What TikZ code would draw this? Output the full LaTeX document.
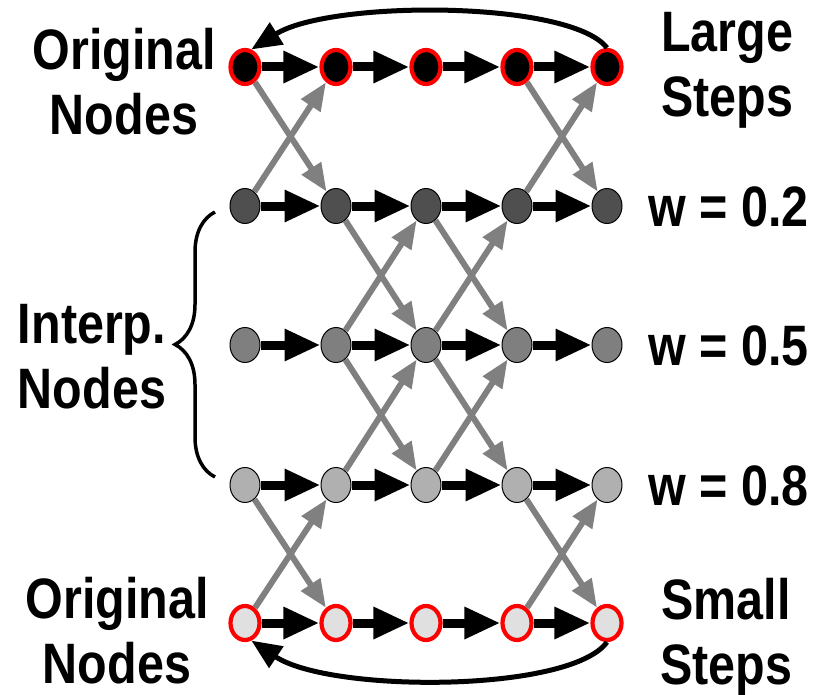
\documentclass[tikz,border=0pt]{standalone}
\usepackage{fontspec}
\newfontfamily\lblfont{Liberation Sans}[FakeStretch=0.85]
\usetikzlibrary{arrows.meta,shapes.geometric,decorations.pathreplacing}
\definecolor{wtwo}{HTML}{4F4F4F}
\definecolor{wfive}{HTML}{7F7F7F}
\definecolor{weight}{HTML}{B0B0B0}
\definecolor{origlight}{HTML}{E0E0E0}
\definecolor{grayarrow}{HTML}{808080}
\tikzset{
  nd/.style={ellipse, minimum width=30pt, minimum height=35pt, inner sep=0pt},
  origA/.style={nd, fill=black, draw=red, line width=4.2pt, minimum width=29pt, minimum height=34pt},
  wA/.style={nd, fill=wtwo, draw=black, line width=1pt},
  wB/.style={nd, fill=wfive, draw=black, line width=1pt},
  wC/.style={nd, fill=weight, draw=black, line width=1pt},
  origB/.style={nd, fill=origlight, draw=red, line width=4.2pt, minimum width=29pt, minimum height=34pt},
  harr/.style={line width=9pt, -{Triangle[length=36pt,width=30pt]}},
  garr/.style={draw=grayarrow, line width=6pt, -{Triangle[length=28pt,width=22pt]}},
  carr/.style={line width=5pt, -{Triangle[length=30pt,width=25pt]}},
  lbl/.style={font=\lblfont\bfseries\fontsize{57}{65}\selectfont, align=center, inner sep=0pt, anchor=base},
}
\begin{document}
\begin{tikzpicture}[x=1pt,y=-1pt]
\useasboundingbox (0,0) rectangle (821,695);
\foreach \c/\x in {0/245,1/336,2/426,3/517,4/607}{
  \node[origA] (a\c) at (\x,67) {};
  \node[wA] (b\c) at (\x,206) {};
  \node[wB] (c\c) at (\x,345) {};
  \node[wC] (d\c) at (\x,485) {};
  \node[origB] (e\c) at (\x,623) {};
}
% gray diagonal arrows
\foreach \s/\t in {a0/b1,b0/a1,a3/b4,b3/a4,
                   b1/c2,c1/b2,b2/c3,c2/b3,
                   c1/d2,d1/c2,c2/d3,d2/c3,
                   d0/e1,e0/d1,d3/e4,e3/d4}{
  \draw[garr] (\s) -- (\t);
}
% horizontal black arrows
\foreach \r in {a,b,c,d,e}{
  \foreach \i/\j in {0/1,1/2,2/3,3/4}{
    \draw[harr] (\r\i) -- (\r\j);
  }
}
% curved return arrows
\draw[carr] (a4.north) .. controls (570,0) and (330,0) .. (a0.70);
\draw[carr] (e4.south) .. controls (570,693) and (330,693) .. (e0.-70);
% brace
\draw[decorate, decoration={brace, amplitude=40pt, aspect=0.5}, line width=3.5pt] (215,477) -- (215,212);
% labels (base anchor = baseline of the last line)
\node[lbl] (tl) at (124,135) {Original\\Nodes};
\node[lbl] (tr) at (727,117) {Large\\Steps};
\node[lbl, anchor=base west] (w2) at (648,226) {w = 0.2};
\node[lbl, anchor=base west] (w5) at (648,365) {w = 0.5};
\node[lbl, anchor=base west] (w8) at (648,505) {w = 0.8};
\node[lbl] (il) at (92,408) {Interp.\\Nodes};
\node[lbl] (bl) at (117,683) {Original\\Nodes};
\node[lbl] (br) at (726,684) {Small\\Steps};
\end{tikzpicture}
\end{document}
